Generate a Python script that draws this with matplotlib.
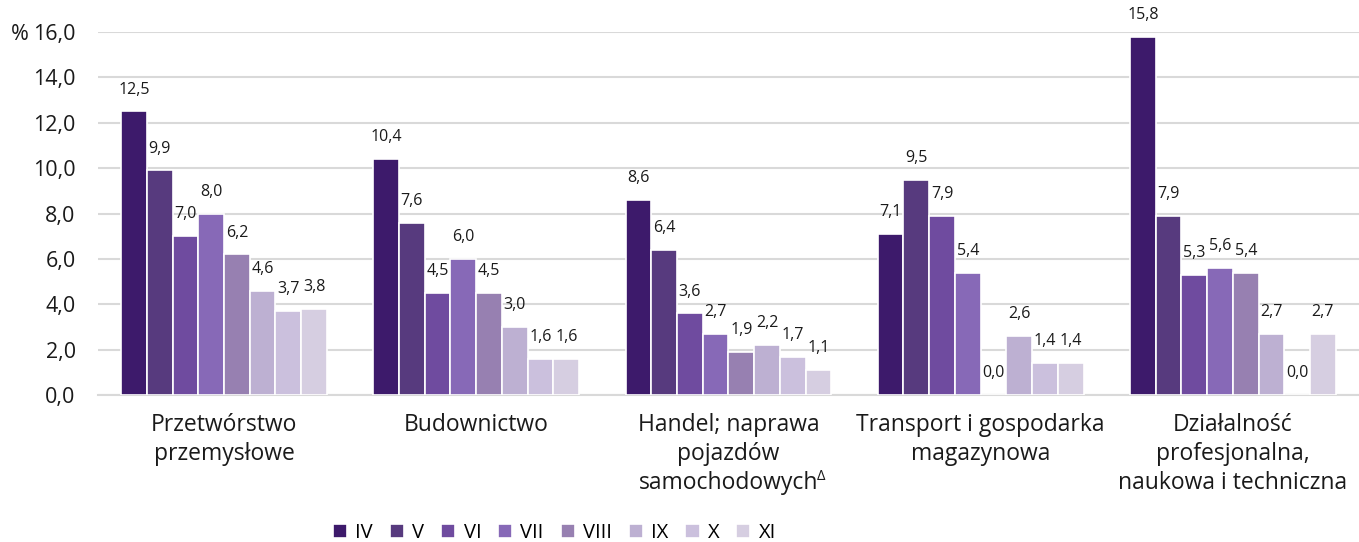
import numpy as np
import matplotlib
matplotlib.use("Agg")
import matplotlib.pyplot as plt

plt.rcParams["font.family"] = ["Open Sans", "DejaVu Sans"]

categories = [
    "Przetwórstwo\nprzemysłowe",
    "Budownictwo",
    "Handel; naprawa\npojazdów\nsamochodowych",
    "Transport i gospodarka\nmagazynowa",
    "Działalność\nprofesjonalna,\nnaukowa i techniczna",
]
months = ["IV", "V", "VI", "VII", "VIII", "IX", "X", "XI"]

# values per month, one entry per category
iv = [12.5, 10.4, 8.6, 7.1, 15.8]
v = [9.9, 7.6, 6.4, 9.5, 7.9]
vi = [7.0, 4.5, 3.6, 7.9, 5.3]
vii = [8.0, 6.0, 2.7, 5.4, 5.6]
viii = [6.2, 4.5, 1.9, 0.0, 5.4]
ix = [4.6, 3.0, 2.2, 2.6, 2.7]
x_ = [3.7, 1.6, 1.7, 1.4, 0.0]
xi = [3.8, 1.6, 1.1, 1.4, 2.7]
series = [iv, v, vi, vii, viii, ix, x_, xi]

colors = ["#3d1a6b", "#573a7e", "#6f4b9f", "#8769b7", "#9780b1",
          "#bdb0d2", "#cbc0dd", "#d6cee1"]

fig = plt.figure(figsize=(13.59, 5.42), dpi=100)
ax = fig.add_axes([0.072, 0.271, 0.928, 0.67])

n = len(months)
w = 0.102
x = np.arange(len(categories))
for i, (vals, c, m) in enumerate(zip(series, colors, months)):
    pos = x + (i - (n - 1) / 2) * w
    bars = ax.bar(pos, vals, w, color=c, edgecolor="white", linewidth=1.2,
                  label=m, zorder=3)
    for b, val in zip(bars, vals):
        ax.annotate(f"{val:.1f}".replace(".", ","),
                    (b.get_x() + b.get_width() / 2, val),
                    xytext=(0, 10), textcoords="offset points",
                    ha="center", va="bottom", fontsize=11.5, color="#1a1a1a")

ax.set_xlim(-0.5, len(categories) - 0.5)
ax.set_ylim(0, 16)
yt = np.arange(0, 16.1, 2)
ax.set_yticks(yt)
ax.set_yticklabels([f"{t:.1f}".replace(".", ",") for t in yt], fontsize=15.5)
ax.set_xticks(x)
ax.set_xticklabels(categories, fontsize=16.5, linespacing=1.27)
ax.tick_params(axis="both", length=0, colors="#1a1a1a")
ax.tick_params(axis="x", pad=13)
ax.tick_params(axis="y", pad=16)
ax.grid(axis="y", color="#d9d9d9", linewidth=1.5, zorder=0)
for s in ["top", "right", "left"]:
    ax.spines[s].set_visible(False)
ax.spines["bottom"].set_color("#d9d9d9")
ax.spines["bottom"].set_linewidth(1.5)

fig.text(0.008, 0.941, "%", fontsize=15.5, va="center_baseline", ha="left",
         color="#1a1a1a")

# superscript delta after "samochodowych"
fig.canvas.draw()
lab = ax.get_xticklabels()[2]
bb = lab.get_window_extent()
fig.text((bb.x1 - 2) / fig.bbox.width, (bb.y0 + bb.height / 3 - 1) / fig.bbox.height,
         "Δ", fontsize=10.5, ha="left", va="top", color="#1a1a1a")

fig.legend(loc="center", bbox_to_anchor=(0.408, 0.017), ncol=n, frameon=False,
           fontsize=14.5, handlelength=0.7, handleheight=0.7, handletextpad=0.4,
           columnspacing=0.85, borderpad=0)

fig.savefig("out.png", dpi=100)
